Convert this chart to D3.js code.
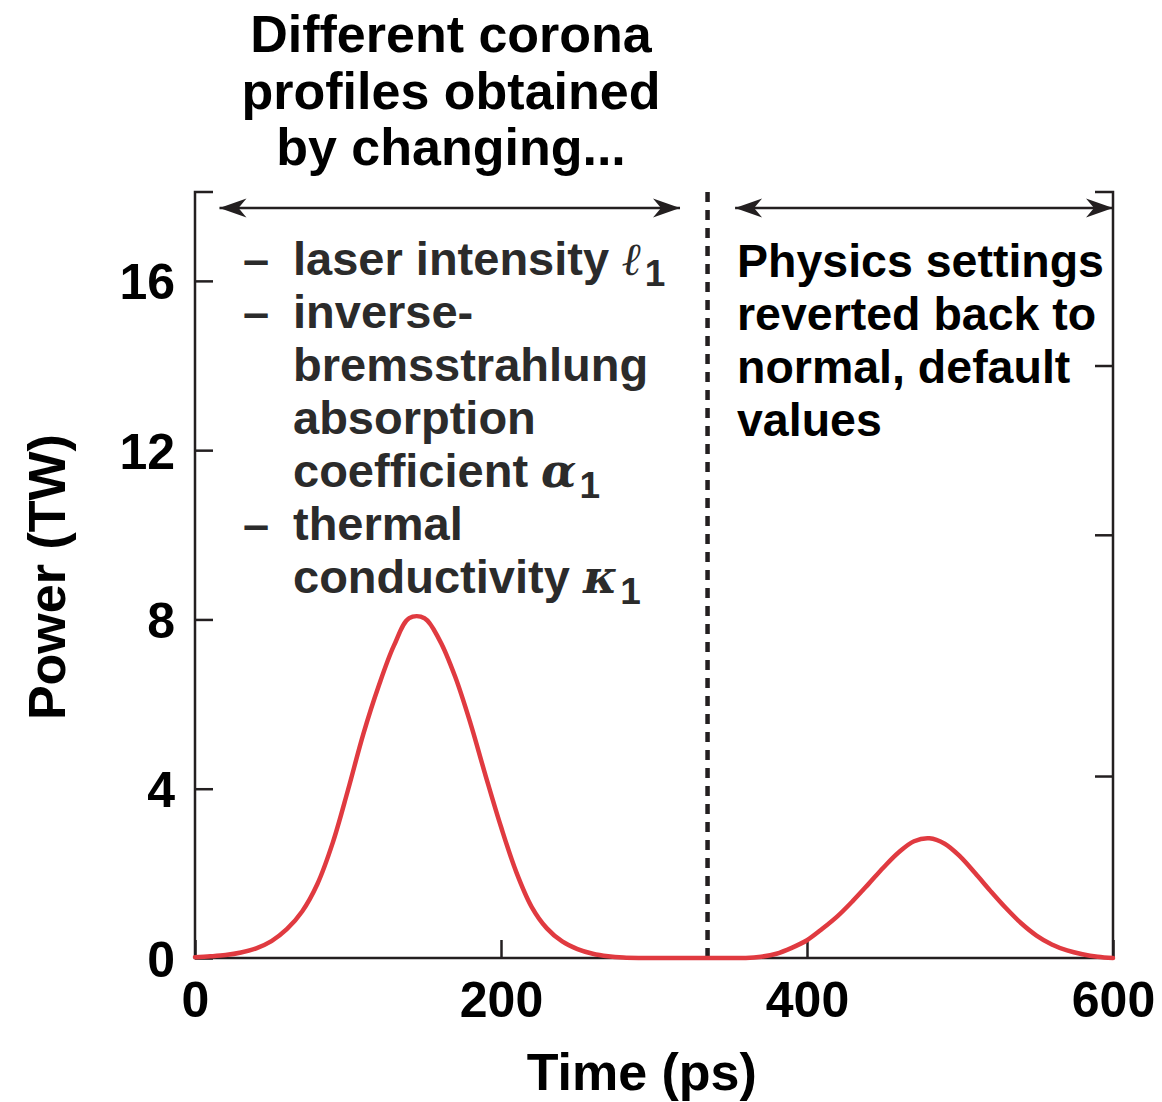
<!DOCTYPE html>
<html>
<head>
<meta charset="utf-8">
<script src="https://cdn.jsdelivr.net/npm/d3@7"></script>
<style>
  html, body { margin: 0; padding: 0; background: #fff; }
  svg { display: block; }
  text { font-family: "Liberation Sans", Arial, Helvetica, sans-serif; font-weight: bold; }
</style>
</head>
<body>
<svg id="chart" width="1162" height="1102"></svg>
<script>
// Laser pulse power history (TW) versus time (ps), sampled every 10 ps
const timePs = [0, 10, 20, 30, 40, 50, 60, 70, 80, 90, 100, 110, 120, 130, 140, 150, 160, 170, 180, 190, 200,
                210, 220, 230, 240, 250, 260, 270, 280, 290, 300, 310, 320, 330, 340, 350, 360, 370, 380, 390, 400,
                410, 420, 430, 440, 450, 460, 470, 480, 490, 500, 510, 520, 530, 540, 550, 560, 570, 580, 590, 600];
const powerTW = [0.02, 0.04, 0.07, 0.13, 0.23, 0.40, 0.68, 1.10, 1.75, 2.72, 3.97, 5.29, 6.42, 7.38, 8.03, 8.03, 7.50, 6.65, 5.55, 4.30, 3.10,
                 2.03, 1.21, 0.70, 0.39, 0.21, 0.10, 0.04, 0.01, 0, 0, 0, 0, 0, 0, 0, 0, 0.03, 0.10, 0.24, 0.42,
                 0.69, 0.99, 1.35, 1.74, 2.14, 2.50, 2.76, 2.83, 2.70, 2.40, 2.00, 1.58, 1.18, 0.82, 0.53, 0.32, 0.18, 0.09, 0.03, 0];

const xTicks = [0, 200, 400, 600];
const yTicks = [0, 4, 8, 12, 16];
const rightTicks = [4.3, 10, 14];
const switchTime = 335;            // physics settings reverted here
const leftSpan = [16, 317];        // range of the modified-physics arrow
const rightSpan = [353, 600];      // range of the default-physics arrow

const titleLines = ["Different corona", "profiles obtained", "by changing..."];
const rightNote = ["Physics settings", "reverted back to", "normal, default", "values"];

const svg = d3.select("#chart");
const ink = "#231f20";
const m = { left: 195, right: 1113, top: 192, bottom: 958 };

const x = d3.scaleLinear().domain([0, 600]).range([m.left, m.right]);
const y = d3.scaleLinear().domain([0, 18.1]).range([m.bottom, m.top]);

// Frame: left, bottom, right lines with short corner stubs at the top
const frame = svg.append("g").attr("stroke", ink).attr("stroke-width", 2.5).attr("fill", "none");
frame.append("path").attr("d",
  `M${m.left + 18},${m.top} H${m.left} V${m.bottom} H${m.right} V${m.top} H${m.right - 18}`);

// Left axis ticks (inward) and labels
const yAxis = d3.axisLeft(y).tickValues(yTicks).tickSize(-18).tickPadding(20).tickFormat(d3.format("d"));
const gy = svg.append("g").attr("transform", `translate(${m.left},0)`).call(yAxis);
gy.select(".domain").remove();
gy.selectAll(".tick line").attr("stroke", ink).attr("stroke-width", 2.5);
gy.selectAll(".tick text").attr("fill", "#000").attr("font-size", 50).attr("dy", "0.36em")
  .attr("font-family", "Liberation Sans, Arial, sans-serif").attr("font-weight", "bold");

// Bottom axis ticks (inward) and labels
const xAxis = d3.axisBottom(x).tickValues(xTicks).tickSize(-18).tickPadding(59).tickFormat(d3.format("d"));
const gx = svg.append("g").attr("transform", `translate(0,${m.bottom})`).call(xAxis);
gx.select(".domain").remove();
gx.selectAll(".tick line").attr("stroke", ink).attr("stroke-width", 2.5);
gx.selectAll(".tick text").attr("fill", "#000").attr("font-size", 50).attr("dy", "0")
  .attr("font-family", "Liberation Sans, Arial, sans-serif").attr("font-weight", "bold");

// Right axis ticks (inward, unlabeled)
const gr = svg.append("g").attr("transform", `translate(${m.right},0)`)
  .call(d3.axisRight(y).tickValues(rightTicks).tickSize(-18).tickFormat(""));
gr.select(".domain").remove();
gr.selectAll(".tick line").attr("stroke", ink).attr("stroke-width", 2.5);

// Axis titles
svg.append("text").attr("x", x(292)).attr("y", 1090).attr("text-anchor", "middle")
  .attr("font-size", 52).attr("fill", "#000").text("Time (ps)");
svg.append("text").attr("transform", `translate(65,${y(9.0)}) rotate(-90)`).attr("text-anchor", "middle")
  .attr("font-size", 52).attr("fill", "#000").text("Power (TW)");

// Dashed divider where the physics settings change
svg.append("line")
  .attr("x1", x(switchTime)).attr("x2", x(switchTime))
  .attr("y1", m.top).attr("y2", m.bottom)
  .attr("stroke", ink).attr("stroke-width", 4.5).attr("stroke-dasharray", "10,8");

// Pulse curve
const line = d3.line().x((d, i) => x(timePs[i])).y(d => y(d)).curve(d3.curveCatmullRom.alpha(0.5));
svg.append("path").datum(powerTW)
  .attr("d", line)
  .attr("fill", "none").attr("stroke", "#e03a40").attr("stroke-width", 4.5)
  .attr("stroke-linejoin", "round").attr("stroke-linecap", "round");

// Double-headed arrows
const defs = svg.append("defs");
defs.append("marker").attr("id", "head")
  .attr("viewBox", "-30 -11 32 22").attr("refX", 0).attr("refY", 0)
  .attr("markerWidth", 32).attr("markerHeight", 22).attr("markerUnits", "userSpaceOnUse")
  .attr("orient", "auto-start-reverse")
  .append("path").attr("d", "M0,0 L-27,-9.5 L-19,0 L-27,9.5 Z").attr("fill", ink);

const arrowY = 208;
[leftSpan, rightSpan].forEach(s => {
  svg.append("line")
    .attr("x1", x(s[0])).attr("x2", x(s[1])).attr("y1", arrowY).attr("y2", arrowY)
    .attr("stroke", ink).attr("stroke-width", 2.3)
    .attr("marker-start", "url(#head)").attr("marker-end", "url(#head)");
});

// Title above the left region
const title = svg.append("text").attr("text-anchor", "middle").attr("font-size", 52).attr("fill", "#000");
titleLines.forEach((t, i) => {
  title.append("tspan").attr("x", 451).attr("y", 52 + i * 56.5).text(t);
});

// List of modified parameters
const listFs = 47;
const listX = 293, dashX = 243, base0 = 275, step = 53;
const listColor = "#2b2b2b";
const listRows = [
  { dash: true, parts: [["laser intensity "], ["ℓ", "sym"], ["1", "sub"]] },
  { dash: true, parts: [["inverse-"]] },
  { dash: false, parts: [["bremsstrahlung"]] },
  { dash: false, parts: [["absorption"]] },
  { dash: false, parts: [["coefficient "], ["α", "sym"], ["1", "sub"]] },
  { dash: true, parts: [["thermal"]] },
  { dash: false, parts: [["conductivity "], ["κ", "sym"], ["1", "sub"]] }
];
const list = svg.append("g").attr("fill", listColor).attr("font-size", listFs);
listRows.forEach((row, i) => {
  const by = base0 + i * step;
  if (row.dash) list.append("text").attr("x", dashX).attr("y", by).text("–");
  const t = list.append("text").attr("x", listX).attr("y", by);
  row.parts.forEach(p => {
    const ts = t.append("tspan").text(p[0]);
    if (p[1] === "sym") {
      ts.attr("font-family", "DejaVu Serif, Liberation Serif, serif").attr("font-style", "italic")
        .attr("font-weight", "bold").attr("font-size", 46);
    } else if (p[1] === "sub") {
      ts.attr("font-size", 37).attr("dy", 11).attr("dx", 3);
    }
  });
});

// Note for the right region
const note = svg.append("text").attr("font-size", 46.5).attr("fill", "#000");
rightNote.forEach((t, i) => {
  note.append("tspan").attr("x", 737).attr("y", 277 + i * 53).text(t);
});
</script>
</body>
</html>
